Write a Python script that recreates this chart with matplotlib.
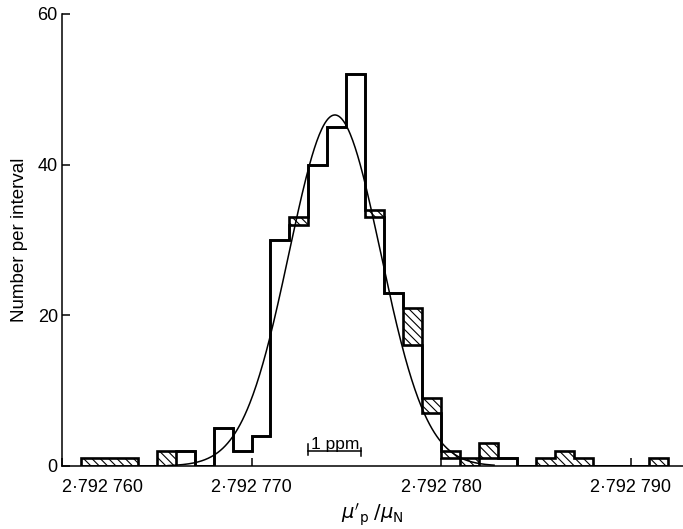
import numpy as np
import matplotlib
matplotlib.use('Agg')
import matplotlib.pyplot as plt
from matplotlib.ticker import FuncFormatter

plt.rcParams['font.family'] = ['Liberation Sans', 'DejaVu Sans']
plt.rcParams['hatch.linewidth'] = 0.8

# x in units of 1e-6 (last digits of mu'_p/mu_N = 2.792 xxx)
bin_edges = [761, 762, 763, 764, 765, 766, 767, 768, 769, 770, 771, 772, 773, 774, 775, 776,
             777, 778, 779, 780, 781, 782, 783, 784, 785, 786, 787, 788, 789, 790, 791, 792]
# total number per interval
counts = [1, 1, 1, 0, 2, 2, 0, 5, 2, 4, 30, 33, 40, 45, 52, 34,
          23, 21, 9, 2, 1, 3, 1, 0, 1, 2, 1, 0, 0, 0, 1]
# hatched part (drawn at the top of each interval)
hatched = [1, 1, 1, 0, 2, 0, 0, 0, 0, 0, 0, 1, 0, 0, 0, 1,
           0, 5, 2, 1, 1, 2, 0, 0, 1, 2, 1, 0, 0, 0, 1]

# fitted curve
fit_peak = 46.6
fit_centre = 774.4
fit_width = 2.42
fit_range = (765.6, 782.8)

xticks = [760, 770, 780, 790]
yticks = [0, 20, 40, 60]
ppm_bar = (773.0, 775.8)   # 1 ppm of 2.79 is 2.79e-6

open_part = [c - h for c, h in zip(counts, hatched)]

fig = plt.figure(figsize=(6.83, 5.29), dpi=100)
ax = fig.add_axes([62 / 683, 1 - 466 / 529, 621 / 683, 452 / 529])

# hatched portions
ax.bar(bin_edges[:-1], hatched, width=1, bottom=open_part, align='edge',
       fill=False, linewidth=0, edgecolor='black', hatch='\\\\\\\\')
# outlines
ax.stairs(counts, bin_edges, baseline=0, color='black', linewidth=1.9)
ax.stairs(open_part, bin_edges, baseline=0, color='black', linewidth=1.9)

xs = np.linspace(fit_range[0], fit_range[1], 400)
ax.plot(xs, fit_peak * np.exp(-0.5 * ((xs - fit_centre) / fit_width) ** 2),
        color='black', linewidth=1.1)

# 1 ppm scale bar
ax.plot([ppm_bar[0], ppm_bar[1]], [2.0, 2.0], color='black', linewidth=1.1)
ax.plot([ppm_bar[0], ppm_bar[0]], [1.5, 2.9], color='black', linewidth=1.1)
ax.plot([ppm_bar[1], ppm_bar[1]], [1.3, 2.4], color='black', linewidth=1.1)
ax.text(sum(ppm_bar) / 2, 1.9, '1 ppm', ha='center', va='bottom', fontsize=12.5)

ax.set_xlim(760, 760 + 621 / 18.95)
ax.set_ylim(0, 60)
ax.set_xticks(xticks)
ax.set_yticks(yticks)
ax.xaxis.set_major_formatter(FuncFormatter(lambda v, p: f'2\u00b7792 {int(round(v))}'))
ax.tick_params(direction='in', length=6, width=1.1, labelsize=13)
ax.tick_params(axis='x', pad=9)
ax.tick_params(axis='y', pad=3)
ax.get_xticklabels()[0].set_horizontalalignment('left')

for s in ['top', 'right']:
    ax.spines[s].set_visible(False)
for s in ['left', 'bottom']:
    ax.spines[s].set_linewidth(1.1)

ax.set_xlabel(r"$\mu'_{\rm p}\;/\mu_{\rm N}$", fontsize=14, labelpad=4)
ax.set_ylabel('Number per interval', fontsize=13.5, labelpad=7)

fig.savefig('out.png', dpi=100)
